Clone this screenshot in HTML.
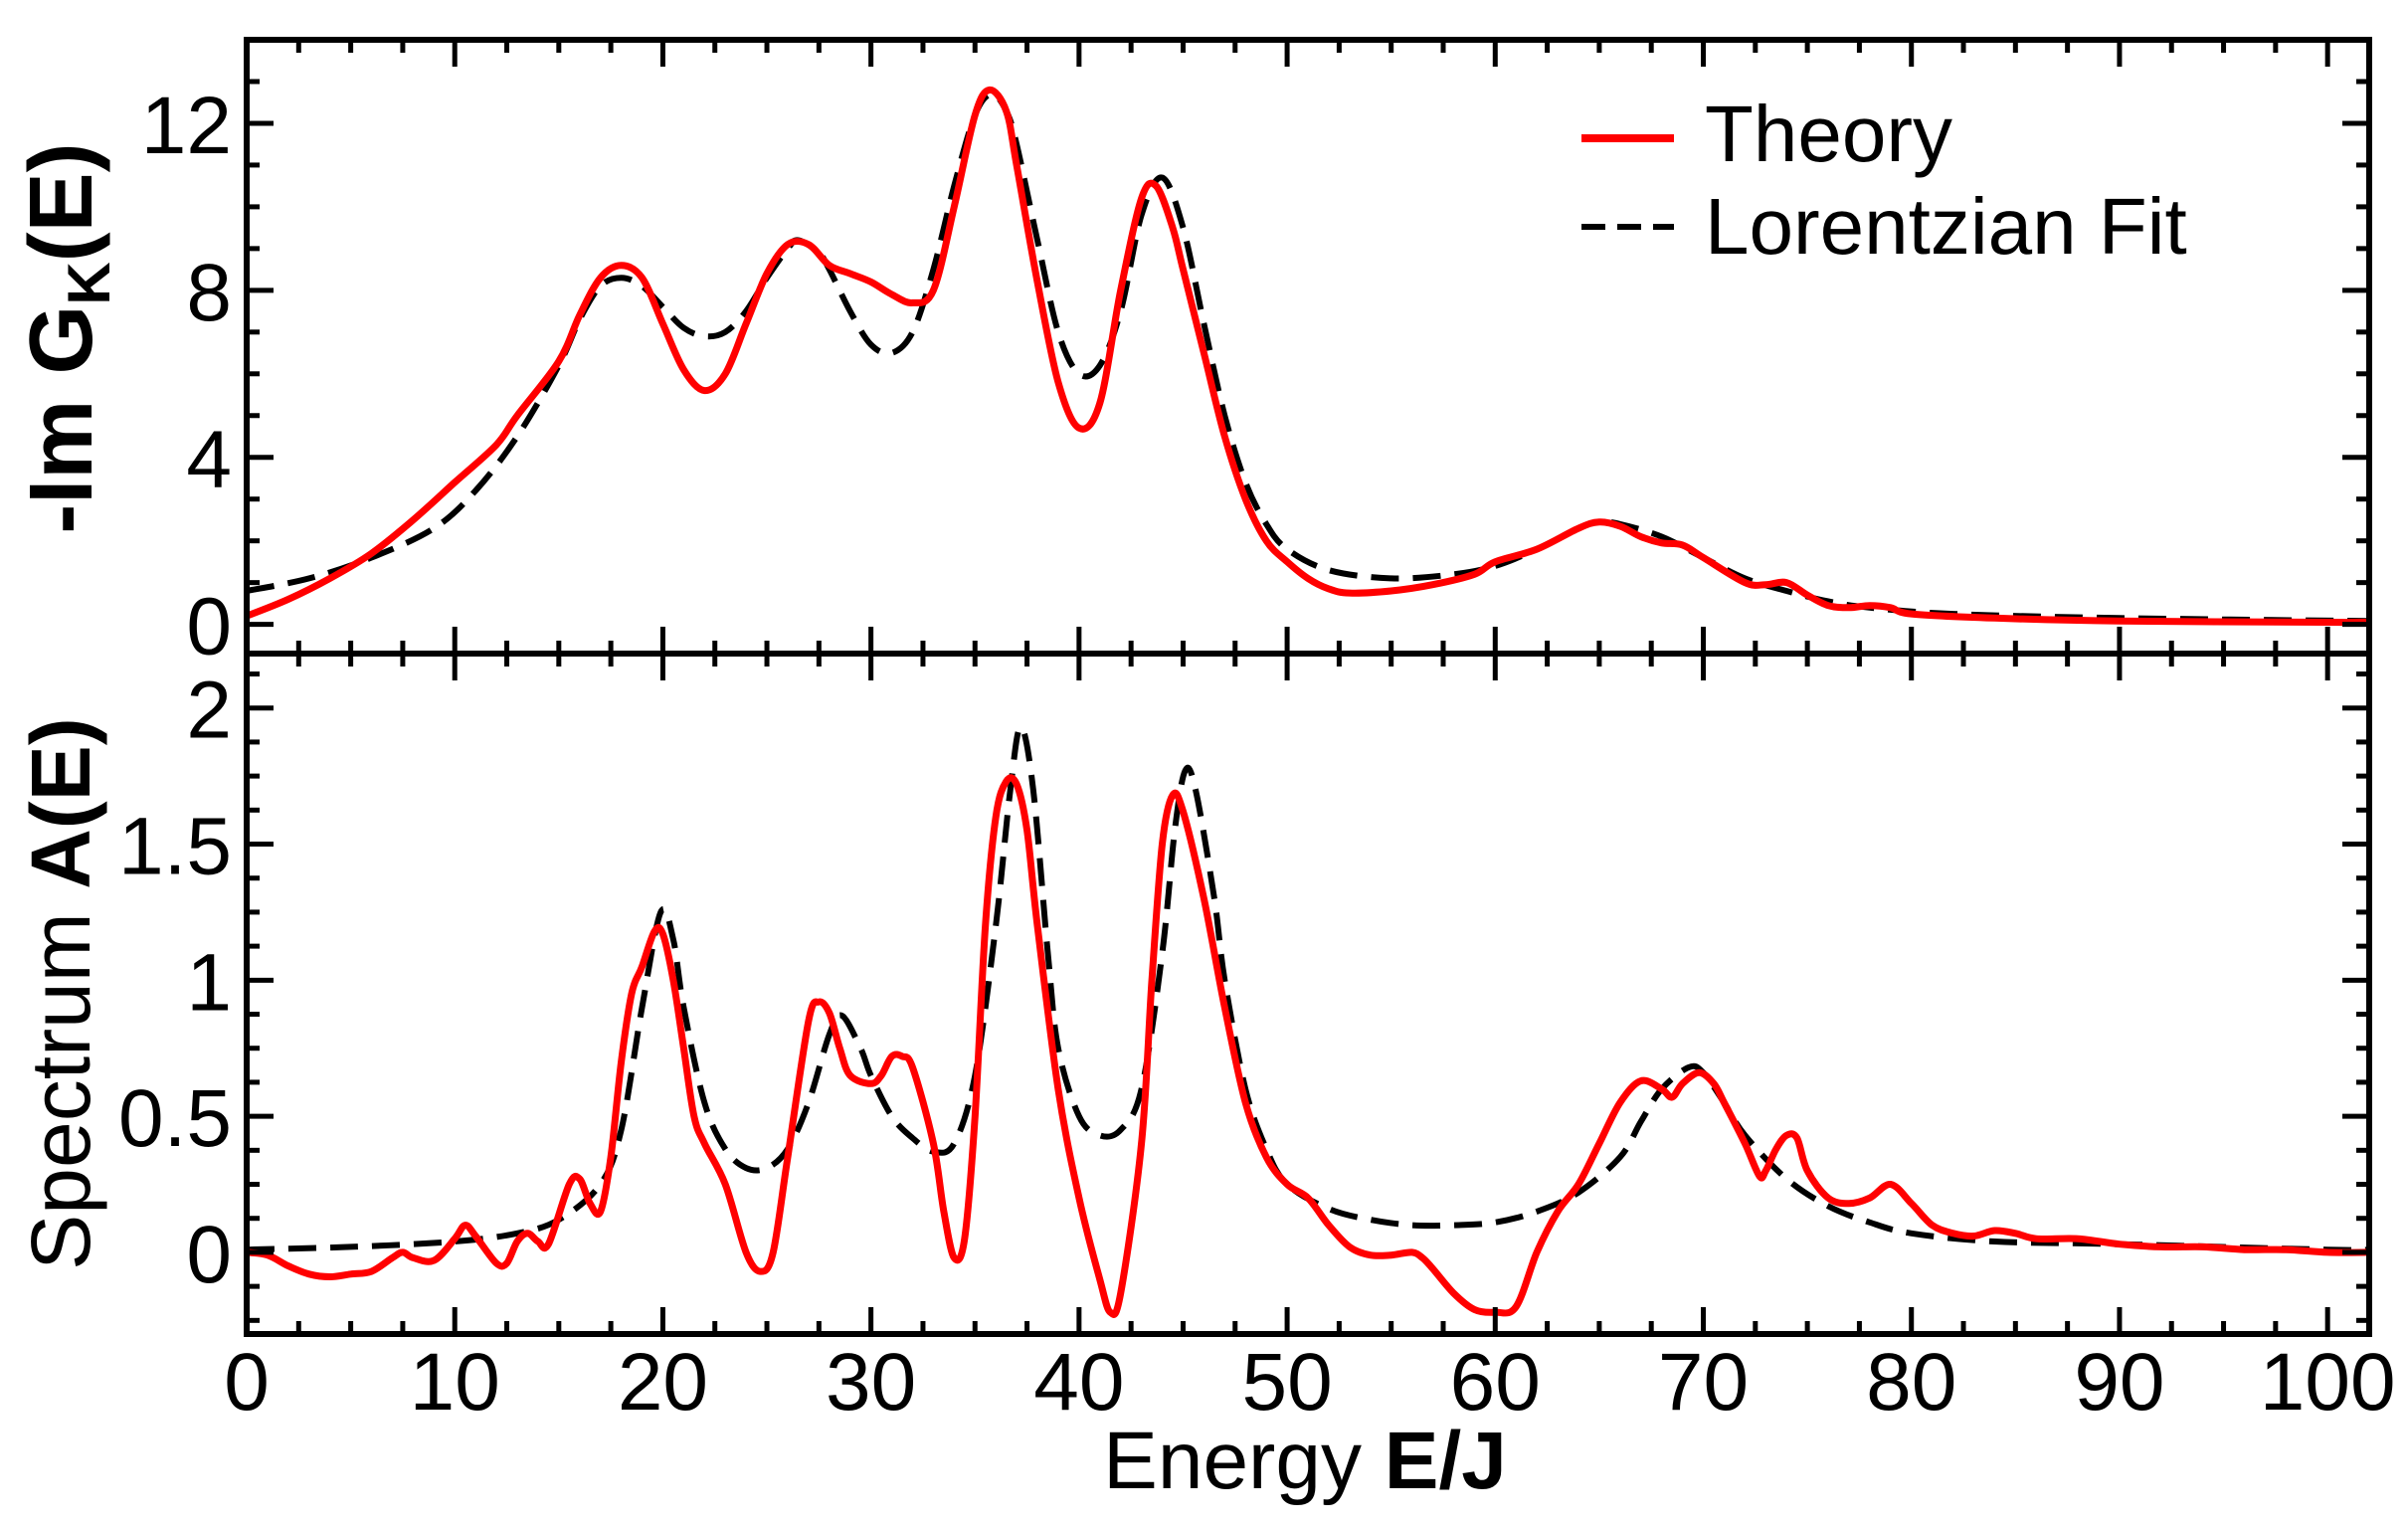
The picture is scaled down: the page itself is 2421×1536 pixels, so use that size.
<!DOCTYPE html>
<html><head><meta charset="utf-8">
<style>
html,body{margin:0;padding:0;background:#fff;}
svg{display:block;font-family:"Liberation Sans",sans-serif;}
</style></head>
<body>
<svg id="chart" width="2421" height="1536" viewBox="0 0 2421 1536" xmlns="http://www.w3.org/2000/svg">
<g id="plots"></g>
<g id="axes"></g>
<text x="1312" y="1496" font-size="82" text-anchor="middle">Energy <tspan font-weight="bold">E/J</tspan></text>
<text transform="translate(92,340) rotate(-90)" font-size="90" font-weight="bold" text-anchor="middle">-Im G<tspan font-size="60" dy="18">K</tspan><tspan dy="-18">(E)</tspan></text>
<text transform="translate(90,999) rotate(-90)" font-size="84" text-anchor="middle">Spectrum <tspan font-weight="bold">A(E)</tspan></text>
<g>
<line x1="1590" y1="139" x2="1683" y2="139" stroke="#f00" stroke-width="8"/>
<text x="1714" y="162" font-size="80">Theory</text>
<line x1="1590" y1="228" x2="1683" y2="228" stroke="#000" stroke-width="6" stroke-dasharray="24,12"/>
<text x="1714" y="255" font-size="80">Lorentzian Fit</text>
</g>
</svg>
<script>
const topTheoryE=[0,2,4,6,8,10,12,13,15,16,17,18,19,20,21,22,23,24,25,26,27,28,29,30,31,32,33,34,35,35.7,36.5,37,38,39,40,41,42,43,43.7,44.5,45,46,47,48,49,50,51,52,53,55,57,59,60,62,64,65,66,67,68,69,70,72,73,74,75,76,77,78,79,80,84,90,100,102];
const topTheoryV=[0.2,0.6,1.1,1.7,2.5,3.4,4.3,5.0,6.3,7.4,8.3,8.6,8.3,7.2,6.1,5.6,6.0,7.2,8.4,9.1,9.1,8.6,8.4,8.2,7.9,7.7,8.0,10.0,12.2,12.8,12.3,11.0,8.2,5.8,4.7,5.3,8.0,10.2,10.5,9.5,8.5,6.5,4.5,3.0,2.0,1.5,1.1,0.85,0.75,0.8,0.95,1.2,1.5,1.8,2.3,2.45,2.35,2.1,1.95,1.9,1.6,1.0,0.95,1.0,0.7,0.45,0.4,0.45,0.4,0.25,0.15,0.08,0.05,0.05];
const topFitE=[0,3,6,9,11,13,15,16,17,18,19,20,21,22,23,24,25,26,26.5,27.5,28,29,30,31,32,33,34,35,35.8,36.5,37,38,39,40,41,42,43,44,45,46,47,48,49,50,52,55,58,60,62,64,65,66,68,70,72,74,76,78,82,90,102];
const topFitV=[0.8,1.1,1.6,2.3,3.2,4.5,6.2,7.3,8.1,8.3,8.1,7.6,7.1,6.9,7.0,7.5,8.3,9.0,9.2,8.9,8.5,7.5,6.7,6.5,7.0,8.5,10.5,12.2,12.7,12.3,11.5,9.2,7.0,6.0,6.2,7.5,9.8,10.7,9.5,7.2,5.0,3.4,2.4,1.8,1.3,1.1,1.2,1.4,1.8,2.3,2.45,2.4,2.1,1.6,1.1,0.8,0.55,0.4,0.25,0.15,0.08];
const botTheoryE=[0,1,2,3,4,5,6,7,7.5,8,9,10,10.5,11,12,12.5,13,13.5,14,14.5,15.5,16,16.5,17,17.5,18,18.5,19,19.6,20,20.5,21,21.5,22,23,24,24.7,25.3,26,27,27.5,28,28.5,29,30,30.5,31,31.5,32,33,33.5,34,34.5,35,35.5,36,36.5,37,37.5,38,39,40,41,41.5,42,43,43.5,44,44.5,45,46,47,48,49,50,51,52,53,54,55,56,56.5,57,58,59,60,61,62,63,64,65,66,67,68,68.5,69,69.8,70.5,71,72,72.7,73,73.5,74,74.5,75,76,77,78,79,80,81,82,83,84,85,86,88,90,92,94,96,98,100,102];
const botTheoryV=[0.0,-0.01,-0.05,-0.08,-0.09,-0.08,-0.07,-0.02,0.0,-0.02,-0.03,0.05,0.1,0.06,-0.04,-0.04,0.04,0.07,0.04,0.03,0.25,0.27,0.18,0.15,0.35,0.7,0.95,1.05,1.18,1.17,1.0,0.75,0.5,0.4,0.25,0.0,-0.07,0.0,0.35,0.85,0.92,0.88,0.75,0.65,0.62,0.65,0.72,0.72,0.68,0.4,0.15,-0.02,0.05,0.5,1.2,1.6,1.73,1.72,1.55,1.2,0.6,0.2,-0.1,-0.22,-0.15,0.4,1.0,1.5,1.68,1.62,1.3,0.9,0.55,0.35,0.25,0.2,0.1,0.02,-0.01,-0.01,0.0,-0.02,-0.06,-0.15,-0.21,-0.22,-0.2,0.0,0.15,0.25,0.4,0.55,0.63,0.6,0.57,0.62,0.66,0.62,0.55,0.4,0.28,0.3,0.38,0.43,0.42,0.3,0.2,0.18,0.2,0.25,0.18,0.1,0.07,0.06,0.08,0.07,0.05,0.05,0.03,0.02,0.02,0.01,0.01,0.0,0.0];
const botFitE=[0,5,10,13,15,17,18,19,19.9,20.5,21,22,23,24,25,26,27,28,28.6,29.5,30,31,32,33,34,35,36,36.7,37.2,37.8,38.5,39,40,41,42,43,44,44.6,45.1,45.6,46.5,47,48,49,50,52,54,56,58,60,62,64,66,67,68,69.3,70,71,72,74,76,78,80,84,90,100,102];
const botFitV=[0.01,0.02,0.04,0.07,0.12,0.25,0.45,0.9,1.25,1.15,0.9,0.55,0.38,0.31,0.31,0.38,0.55,0.8,0.87,0.75,0.65,0.5,0.42,0.37,0.4,0.65,1.2,1.7,1.93,1.7,1.1,0.75,0.5,0.43,0.45,0.6,1.1,1.55,1.77,1.7,1.3,1.0,0.6,0.38,0.25,0.16,0.12,0.1,0.1,0.11,0.15,0.22,0.35,0.48,0.6,0.68,0.66,0.55,0.43,0.27,0.17,0.11,0.07,0.04,0.03,0.01,0.01];
const xTicks=[0,10,20,30,40,50,60,70,80,90,100];
const xTickLabels=["0","10","20","30","40","50","60","70","80","90","100"];
const topYTicks=[0,4,8,12];
const topYTickLabels=["0","4","8","12"];
const botYTicks=[0,0.5,1,1.5,2];
const botYTickLabels=["0","0.5","1","1.5","2"];

const NS="http://www.w3.org/2000/svg";
const L=248,R=2382,T=40,MID=657,B=1341;
const XMIN=0,XMAX=102;
const TOPMIN=-0.7,TOPMAX=14,BOTMIN=-0.3,BOTMAX=2.2;
const sx=v=>L+(v-XMIN)/(XMAX-XMIN)*(R-L);
const syTop=v=>MID-(v-TOPMIN)/(TOPMAX-TOPMIN)*(MID-T);
const syBot=v=>B-(v-BOTMIN)/(BOTMAX-BOTMIN)*(B-MID);
const plots=document.getElementById('plots');
const axes=document.getElementById('axes');

function smoothPath(xs,ys,fx,fy){
  const p=xs.map((x,i)=>[fx(x),fy(ys[i])]);
  let d="M"+p[0][0].toFixed(1)+","+p[0][1].toFixed(1);
  for(let i=0;i<p.length-1;i++){
    const p0=p[Math.max(0,i-1)],p1=p[i],p2=p[i+1],p3=p[Math.min(p.length-1,i+2)];
    const c1x=p1[0]+(p2[0]-p0[0])/6,c1y=p1[1]+(p2[1]-p0[1])/6;
    const c2x=p2[0]-(p3[0]-p1[0])/6,c2y=p2[1]-(p3[1]-p1[1])/6;
    d+=" C"+c1x.toFixed(1)+","+c1y.toFixed(1)+" "+c2x.toFixed(1)+","+c2y.toFixed(1)+" "+p2[0].toFixed(1)+","+p2[1].toFixed(1);
  }
  return d;
}
function addLine(x1,y1,x2,y2,w,name){
  const l=document.createElementNS(NS,'line');
  l.setAttribute('x1',x1);l.setAttribute('y1',y1);l.setAttribute('x2',x2);l.setAttribute('y2',y2);
  l.setAttribute('stroke','#000');l.setAttribute('stroke-width',w);
  
  
  axes.appendChild(l);
}
function addText(x,y,s,anchor,name){
  const t=document.createElementNS(NS,'text');
  t.setAttribute('x',x);t.setAttribute('y',y);t.setAttribute('font-size','82');t.setAttribute('text-anchor',anchor);
  t.textContent=s;
  
  
  axes.appendChild(t);
}
function addCurve(xs,ys,fy,color,w,dash,name,clipId){
  const pa=document.createElementNS(NS,'path');
  pa.setAttribute('d',smoothPath(xs,ys,sx,fy));
  pa.setAttribute('fill','none');pa.setAttribute('stroke',color);pa.setAttribute('stroke-width',w);
  pa.setAttribute('stroke-linejoin','round');
  if(dash)pa.setAttribute('stroke-dasharray',dash);
  pa.setAttribute('clip-path','url(#'+clipId+')');
  
  
  plots.appendChild(pa);
}
const defs=document.createElementNS(NS,'defs');
defs.innerHTML='<clipPath id="cTop"><rect x="'+L+'" y="'+T+'" width="'+(R-L)+'" height="'+(MID-T)+'"/></clipPath><clipPath id="cBot"><rect x="'+L+'" y="'+MID+'" width="'+(R-L)+'" height="'+(B-MID)+'"/></clipPath>';
document.getElementById('chart').prepend(defs);

addCurve(topFitE,topFitV,syTop,'#000',6,'28,14','top-fit-curve','cTop');
addCurve(topTheoryE,topTheoryV,syTop,'#f00',7,null,'top-theory-curve','cTop');
addCurve(botFitE,botFitV,syBot,'#000',6,'28,14','bottom-fit-curve','cBot');
addCurve(botTheoryE,botTheoryV,syBot,'#f00',7,null,'bottom-theory-curve','cBot');

addLine(L,T,R,T,6,'top-frame');
addLine(L,MID,R,MID,6,'panel-divider');
addLine(L,B,R,B,6,'x-axis-line');
addLine(L,T-3,L,B+3,6,'left-axis-line');
addLine(R,T-3,R,B+3,6,'right-axis-line');
for(let v=0;v<=XMAX+0.01;v+=2.5){
  const major=Math.abs(v/10-Math.round(v/10))<1e-6;
  const len=major?27:13,x=sx(v);
  addLine(x,T,x,T+len,5,'x-tick-top');
  addLine(x,MID-len,x,MID+len,5,'x-tick-mid');
  addLine(x,B-len,x,B,5,'x-tick-bottom');
}
xTicks.forEach((v,i)=>addText(sx(v),1417,xTickLabels[i],'middle','x-tick-label'));
for(let v=0;v<=TOPMAX;v+=1){
  const major=v%4===0,len=major?27:13,y=syTop(v);
  addLine(L,y,L+len,y,5,'top-y-tick-left');
  addLine(R-len,y,R,y,5,'top-y-tick-right');
}
topYTicks.forEach((v,i)=>addText(233,syTop(v)+30,topYTickLabels[i],'end','top-y-tick-label'));
for(let k=-2;k<=17;k++){
  const v=k*0.125;if(v<BOTMIN||v>BOTMAX)continue;
  const major=k%4===0,len=major?27:13,y=syBot(v);
  addLine(L,y,L+len,y,5,'bottom-y-tick-left');
  addLine(R-len,y,R,y,5,'bottom-y-tick-right');
}
botYTicks.forEach((v,i)=>addText(233,syBot(v)+30,botYTickLabels[i],'end','bottom-y-tick-label'));
</script>
</body></html>
